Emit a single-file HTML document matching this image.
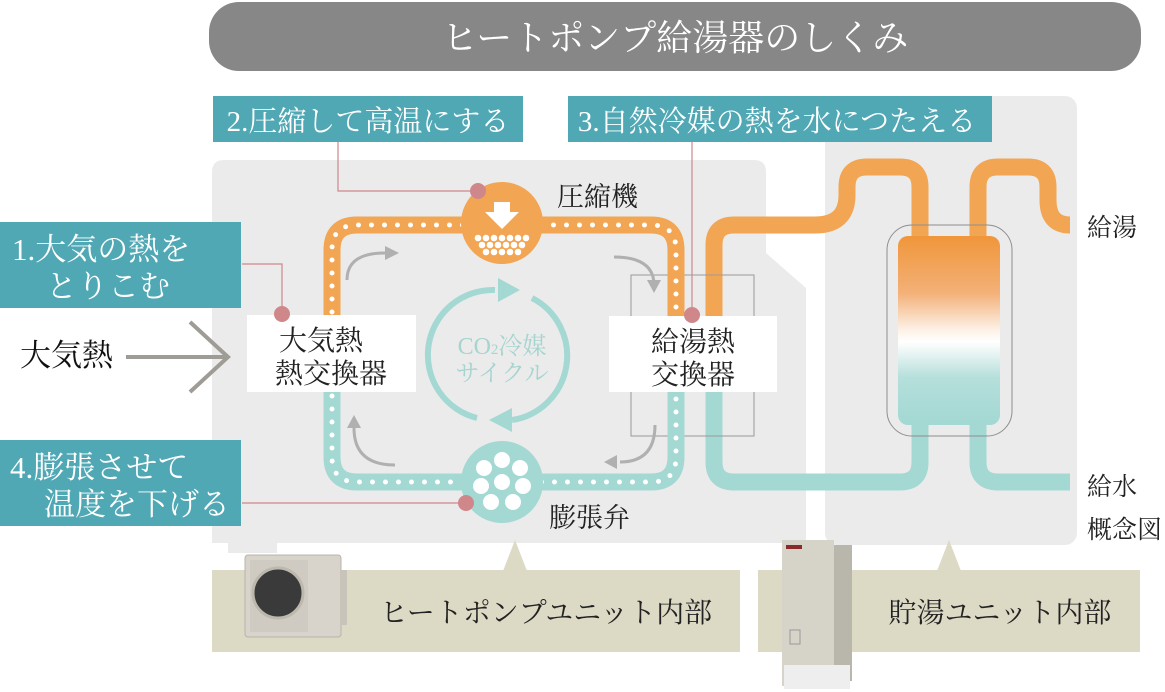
<!DOCTYPE html>
<html><head><meta charset="utf-8"><style>
html,body{margin:0;padding:0;background:#fff;}
svg{display:block;}
text{font-family:"Liberation Serif","Noto Serif CJK SC",serif;}
</style></head><body>
<svg width="1165" height="692" viewBox="0 0 1165 692" xmlns="http://www.w3.org/2000/svg">
<defs>
<linearGradient id="tg" x1="0" y1="0" x2="0" y2="1">
<stop offset="0" stop-color="#f0963a"/>
<stop offset="0.3" stop-color="#f3b077"/>
<stop offset="0.5" stop-color="#fdf2e8"/>
<stop offset="0.56" stop-color="#ffffff"/>
<stop offset="0.75" stop-color="#b5dfdb"/>
<stop offset="1" stop-color="#a3d8d3"/>
</linearGradient>
</defs>
<!-- title -->
<rect x="209" y="2" width="932" height="69" rx="30" fill="#878787"/>
<text x="675" y="50" font-size="36" fill="#fff" text-anchor="middle">ヒートポンプ給湯器のしくみ</text>

<!-- panels -->
<path d="M224 160 H754 Q766 160 766 172 V253 L806 288 V543 H277 V553 H228 V543 H212 V172 Q212 160 224 160 Z" fill="#ebebeb"/>
<rect x="825" y="96" width="252" height="449" rx="12" fill="#ebebeb"/>

<!-- beige bars -->
<rect x="212" y="570" width="528" height="82" fill="#dcd9c5"/>
<rect x="758" y="570" width="382" height="82" fill="#dcd9c5"/>
<polygon points="515,540 503,571 527,571" fill="#dcd9c5"/>
<polygon points="949,540 937,571 961,571" fill="#dcd9c5"/>
<text x="546" y="622" font-size="28" fill="#222" text-anchor="middle">ヒートポンプユニット内部</text>
<text x="1000" y="622" font-size="28" fill="#222" text-anchor="middle">貯湯ユニット内部</text>

<!-- outdoor unit photo -->
<rect x="245" y="555" width="96" height="82" rx="3" fill="#d8d4cc" stroke="#b8b4aa"/>
<rect x="250" y="560" width="58" height="72" fill="#cfcbc2"/>
<circle cx="278" cy="593" r="25" fill="#3a3a3a" stroke="#bdb8ae" stroke-width="3"/>
<rect x="340" y="570" width="7" height="55" fill="#c8c4ba"/>
<!-- tank unit photo -->
<rect x="782" y="540" width="52" height="146" fill="#d6d3c9"/>
<rect x="834" y="545" width="18" height="136" fill="#b9b6ac"/>
<rect x="786" y="545" width="16" height="4" fill="#8a2a2a"/>
<rect x="784" y="665" width="66" height="24" fill="#eeeeee"/>
<rect x="790" y="630" width="10" height="14" fill="none" stroke="#999"/>

<!-- right side pipes -->
<g fill="none" stroke-width="17" stroke-linecap="butt">
<path d="M714 392 V462 Q714 482 734 482 H900 Q920 482 920 462 V425" stroke="#a3d8d3"/>
<path d="M978 425 V462 Q978 482 998 482 H1070" stroke="#a3d8d3"/>
<path d="M714 316 V245 Q714 225 734 225 H815 Q847 225 847 195 V187 Q847 167 867 167 H900 Q920 167 920 187 V240" stroke="#f2a552"/>
<path d="M978 240 V187 Q978 167 998 167 H1028 Q1048 167 1048 187 V200 Q1048 225 1070 225" stroke="#f2a552"/>
</g>
<rect x="887" y="225" width="125" height="211" rx="25" fill="none" stroke="#8e8e8e" stroke-width="1"/>
<rect x="898" y="236" width="102" height="189" rx="10" fill="url(#tg)"/>
<text x="1087" y="236" font-size="25" fill="#222">給湯</text>
<text x="1087" y="495" font-size="25" fill="#222">給水</text>
<text x="1087" y="538" font-size="25" fill="#222">概念図</text>

<!-- thin rect around exchanger -->
<rect x="631" y="275" width="123" height="161" fill="none" stroke="#9a9a9a" stroke-width="1"/>

<!-- loop -->
<g fill="none" stroke-width="17">
<path d="M332 316 V250 Q332 225 357 225 H651 Q676 225 676 250 V316" stroke="#f2a552"/>
<path d="M332 392 V457 Q332 482 357 482 H651 Q676 482 676 457 V392" stroke="#a3d8d3"/>
</g>
<g fill="none" stroke="#fff" stroke-width="5" stroke-linecap="round" stroke-dasharray="0 13">
<path d="M332 312 V250 Q332 225 357 225 H651 Q676 225 676 250 V312"/>
<path d="M332 396 V457 Q332 482 357 482 H651 Q676 482 676 457 V396"/>
</g>

<!-- compressor -->
<circle cx="502" cy="223" r="41" fill="#f2a552"/>
<polygon points="494,202 510,202 510,212 519,212 502,229 485,212 494,212" fill="#fff"/>
<g fill="#fff">
<circle cx="478" cy="238" r="3.3"/><circle cx="486" cy="238" r="3.3"/><circle cx="494" cy="238" r="3.3"/><circle cx="502" cy="238" r="3.3"/><circle cx="510" cy="238" r="3.3"/><circle cx="518" cy="238" r="3.3"/><circle cx="526" cy="238" r="3.3"/>
<circle cx="482" cy="245" r="3.3"/><circle cx="490" cy="245" r="3.3"/><circle cx="498" cy="245" r="3.3"/><circle cx="506" cy="245" r="3.3"/><circle cx="514" cy="245" r="3.3"/><circle cx="522" cy="245" r="3.3"/>
<circle cx="486" cy="252" r="3.3"/><circle cx="494" cy="252" r="3.3"/><circle cx="502" cy="252" r="3.3"/><circle cx="510" cy="252" r="3.3"/><circle cx="518" cy="252" r="3.3"/>
</g>
<text x="557" y="206" font-size="27" fill="#222">圧縮機</text>

<!-- valve -->
<circle cx="502" cy="482" r="41" fill="#a3d8d3"/>
<g fill="#fff">
<circle cx="502" cy="460" r="8"/><circle cx="484" cy="468" r="8"/><circle cx="520" cy="468" r="8"/>
<circle cx="502" cy="482" r="8"/><circle cx="481" cy="486" r="8"/><circle cx="523" cy="486" r="8"/>
<circle cx="491" cy="502" r="8"/><circle cx="513" cy="502" r="8"/>
</g>
<text x="549" y="527" font-size="27" fill="#222">膨張弁</text>

<!-- center cycle -->
<g fill="none" stroke="#a3d8d3" stroke-width="6">
<path d="M477 418 A65 65 0 0 1 495 290"/>
<path d="M532 298 A65 65 0 0 1 512 420"/>
</g>
<polygon points="520,290 498,278 498,302" fill="#a3d8d3"/>
<polygon points="489,420 512,408 512,432" fill="#a3d8d3"/>
<text x="502" y="354" font-size="24" fill="#a6d4cf" text-anchor="middle" font-family="Liberation Sans,Noto Sans CJK SC,sans-serif">CO<tspan font-size="15">2</tspan>冷媒</text>
<text x="502" y="381" font-size="24" fill="#a6d4cf" text-anchor="middle" font-family="Liberation Sans,Noto Sans CJK SC,sans-serif">サイクル</text>

<!-- gray flow arrows -->
<g fill="none" stroke="#b0b0b0" stroke-width="3">
<path d="M347 280 Q347 253 385 253"/>
<path d="M614 257 Q654 257 654 285"/>
<path d="M655 425 Q655 462 620 462"/>
<path d="M395 465 Q354 465 354 428"/>
</g>
<g fill="#b0b0b0">
<polygon points="399,253 385,246 385,260"/>
<polygon points="654,293 647,280 661,280"/>
<polygon points="604,462 617,455 617,469"/>
<polygon points="354,415 347,428 361,428"/>
</g>

<!-- white boxes -->
<rect x="247" y="315" width="169" height="77" fill="#fff"/>
<text x="321" y="350" font-size="28" fill="#222" text-anchor="middle">大気熱</text>
<text x="331" y="383" font-size="28" fill="#222" text-anchor="middle">熱交換器</text>
<rect x="609" y="316" width="168" height="76" fill="#fff"/>
<text x="693" y="351" font-size="28" fill="#222" text-anchor="middle">給湯熱</text>
<text x="693" y="384" font-size="28" fill="#222" text-anchor="middle">交換器</text>

<!-- pink connectors -->
<g fill="none" stroke="#d0878a" stroke-width="1.2">
<path d="M338 142 V191 H478"/>
<path d="M242 264 H282 V314"/>
<path d="M692 142 V315"/>
<path d="M242 503 H466"/>
</g>
<g fill="#d0878a">
<circle cx="478" cy="191" r="8"/>
<circle cx="282" cy="314" r="8"/>
<circle cx="692" cy="315" r="8"/>
<circle cx="466" cy="503" r="8"/>
</g>

<!-- teal labels -->
<rect x="213" y="96" width="310" height="46" fill="#50a8b4"/>
<text x="368" y="131" font-size="29" fill="#fff" text-anchor="middle">2.圧縮して高温にする</text>
<rect x="568" y="96" width="424" height="46" fill="#50a8b4"/>
<text x="777" y="131" font-size="29" fill="#fff" text-anchor="middle">3.自然冷媒の熱を水につたえる</text>
<rect x="0" y="222" width="241" height="86" fill="#50a8b4"/>
<text x="12" y="260" font-size="31" fill="#fff">1.大気の熱を</text>
<text x="46" y="297" font-size="31" fill="#fff">とりこむ</text>
<rect x="0" y="440" width="241" height="86" fill="#50a8b4"/>
<text x="10" y="478" font-size="31" fill="#fff">4.膨張させて</text>
<text x="44" y="515" font-size="31" fill="#fff">温度を下げる</text>

<!-- ambient heat -->
<text x="20" y="366" font-size="31" fill="#111">大気熱</text>
<g fill="none" stroke="#9e9c94" stroke-width="4">
<path d="M126 357 H228"/>
<path d="M190 322 L228 357 L190 392"/>
</g>
</svg>
</body></html>
